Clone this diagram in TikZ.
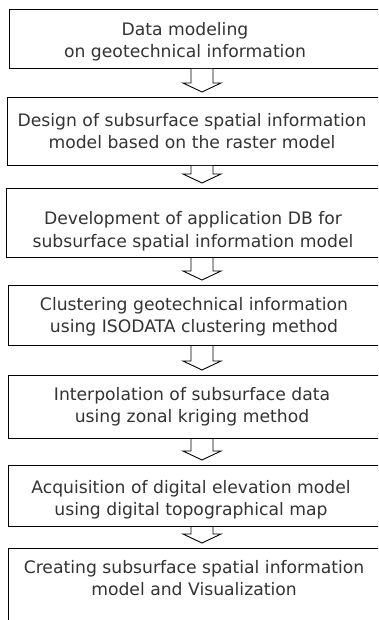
\documentclass[tikz,border=0pt]{standalone}
\usepackage{fontspec}
\setmainfont{DejaVu Sans}
\usetikzlibrary{calc}

\tikzset{
  stepbox/.style={draw=black, line width=1pt, minimum width=440pt,
    anchor=north west, inner sep=0pt},
  steptext/.style={font=\fontsize{17.2}{22}\selectfont, text=black!80,
    align=center, anchor=base, inner sep=0pt},
  flow/.style={draw=black, line width=0.9pt, line join=miter, fill=white}
}

% hollow block arrow hanging from the bottom of #1 down towards the top of #2
\newcommand\flowarrow[2]{%
  \draw[flow] let \p1=(#1.south west), \p2=(#2.north west) in
    (191pt,\y1) -- (191pt,\y2+14pt) -- (183pt,\y2+14pt) -- (202pt,\y2+5pt)
    -- (221pt,\y2+14pt) -- (213pt,\y2+14pt) -- (213pt,\y1);
}

\begin{document}
\begin{tikzpicture}[x=1pt,y=-1pt]
\useasboundingbox (0,0) rectangle (378,620);
\fill[white] (0,0) rectangle (378,620);
\clip (0,0) rectangle (378,620);

% process boxes (they run past the right margin)
\node[stepbox, minimum height=59pt]  (b1) at (9,9)   {};
\node[stepbox, minimum height=68pt]  (b2) at (7,97)  {};
\node[stepbox, minimum height=69pt]  (b3) at (6,188) {};
\node[stepbox, minimum height=60pt]  (b4) at (8,285) {};
\node[stepbox, minimum height=63pt]  (b5) at (8,375) {};
\node[stepbox, minimum height=61pt]  (b6) at (8,465) {};
\node[stepbox, minimum height=100pt] (b7) at (8,548) {};

% step labels (anchored on the baseline of their second line)
\node[steptext] (t1) at (185,58)  {Data modeling\\on geotechnical information};
\node[steptext] (t2) at (192,149) {Design of subsurface spatial information\\model based on the raster model};
\node[steptext] (t3) at (193,247) {Development of application DB for\\subsurface spatial information model};
\node[steptext] (t4) at (194,332) {Clustering geotechnical information\\using ISODATA clustering method};
\node[steptext] (t5) at (192,422) {Interpolation of subsurface data\\using zonal kriging method};
\node[steptext] (t6) at (191,515) {Acquisition of digital elevation model\\using digital topographical map};
\node[steptext] (t7) at (194,595) {Creating subsurface spatial information\\model and Visualization};

% arrows between consecutive steps
\flowarrow{b1}{b2}
\flowarrow{b2}{b3}
\flowarrow{b3}{b4}
\flowarrow{b4}{b5}
\flowarrow{b5}{b6}
\flowarrow{b6}{b7}
\end{tikzpicture}
\end{document}
